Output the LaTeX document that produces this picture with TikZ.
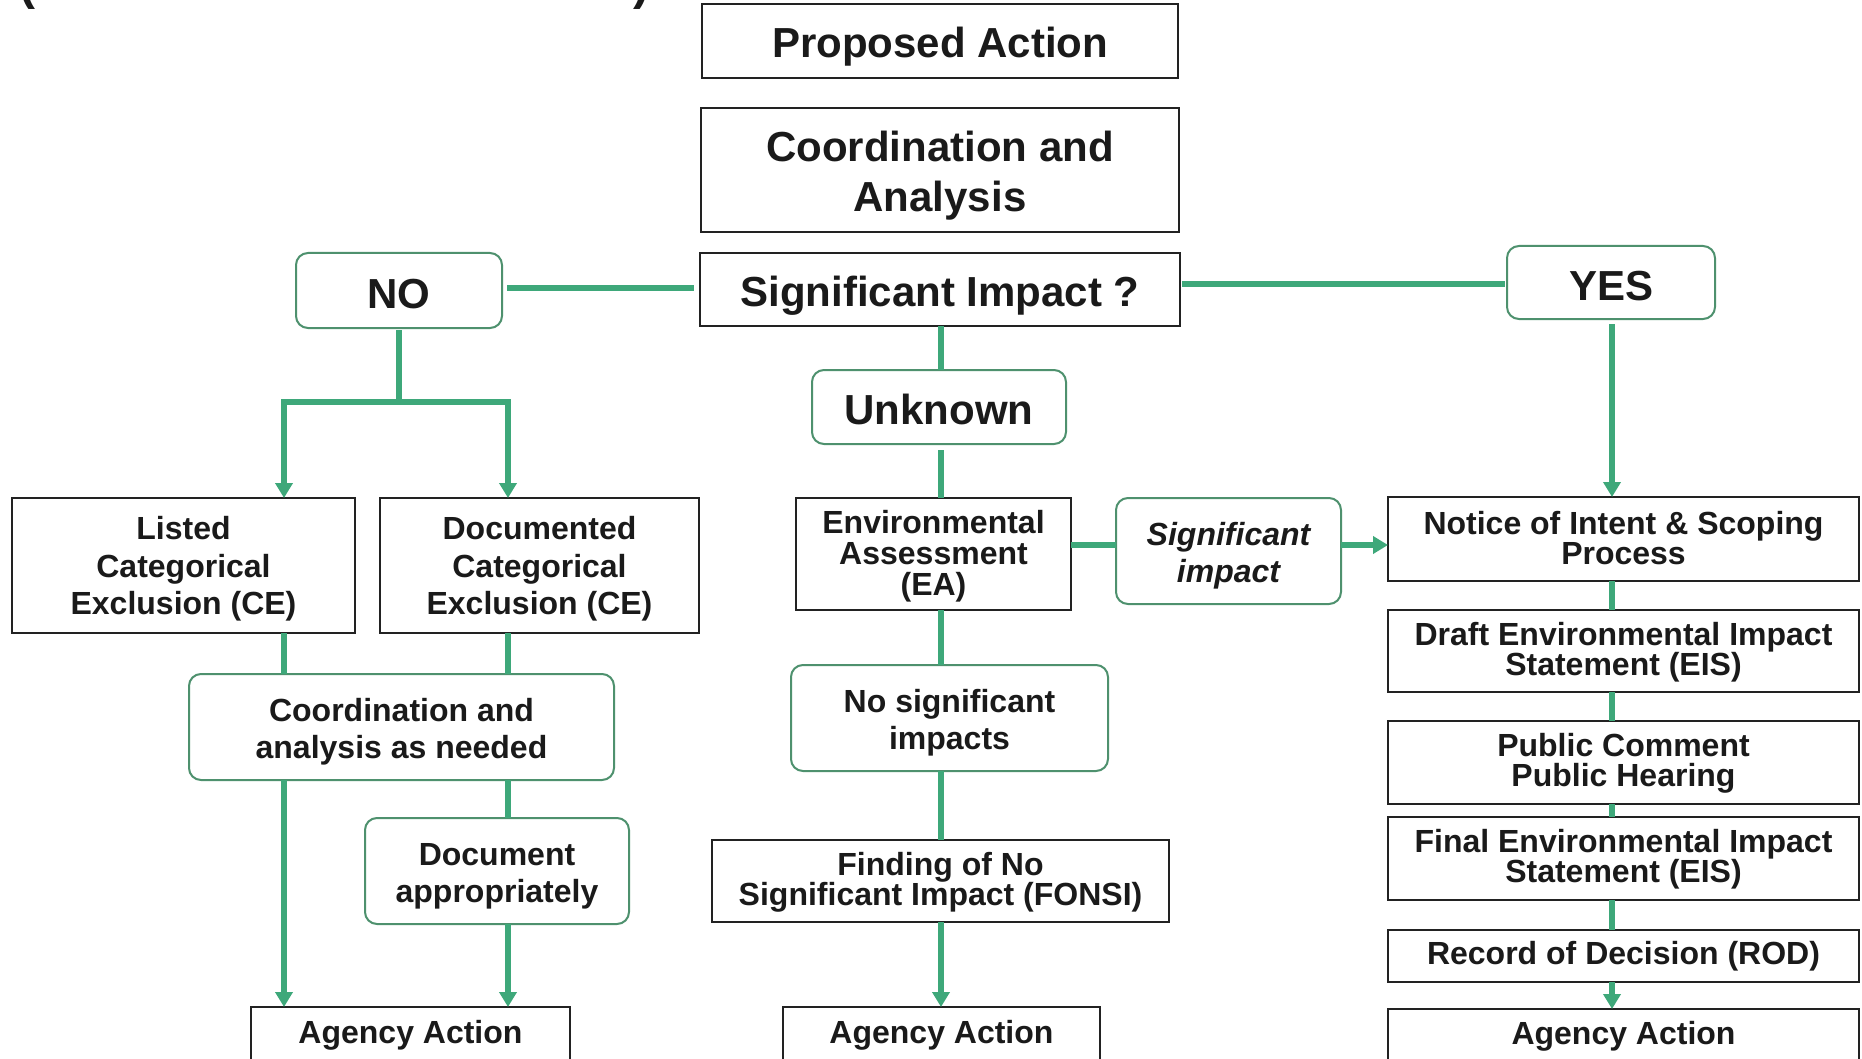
\documentclass[tikz,border=0pt]{standalone}
\usepackage{fontspec}
\setmainfont{Liberation Sans}
\usetikzlibrary{arrows.meta}
\definecolor{lgreen}{HTML}{3EA87A}
\definecolor{bgreen}{HTML}{4E916E}
\definecolor{ink}{HTML}{1A1A1A}
\definecolor{boxc}{HTML}{222222}
\begin{document}
\begin{tikzpicture}[x=1pt,y=-1pt,
  every node/.style={inner sep=0pt, outer sep=0pt, align=center, text=ink},
  blk/.style={draw=boxc, line width=2.5pt, fill=white},
  rbx/.style={draw=bgreen, line width=2pt, rounded corners=12pt, fill=white},
  fbig/.style={font=\bfseries\fontsize{42}{50}\selectfont},
  fmid/.style={font=\bfseries\fontsize{32}{37.5}\selectfont},
  ftight/.style={font=\bfseries\fontsize{32}{30}\selectfont},
  fea/.style={font=\bfseries\fontsize{32}{31}\selectfont},
  fital/.style={font=\bfseries\itshape\fontsize{32}{37}\selectfont},
  conn/.style={draw=lgreen, line width=5.5pt},
  arr/.style={conn, -{Triangle[width=17pt,length=15pt]}},
  sz/.style 2 args={minimum width=#1pt, minimum height=#2pt},
]
\useasboundingbox (0,0) rectangle (1862,1059);
\fill[white] (0,0) rectangle (1862,1059);

% clipped title fragments
\node[font=\bfseries\fontsize{48}{48}\selectfont, anchor=base] (tl) at (27,0) {(};
\node[font=\bfseries\fontsize{48}{48}\selectfont, anchor=base] (tr) at (641,0) {)};

% centre column
\node[blk,sz={476}{74},label={[fbig,yshift=-6pt]center:Proposed Action}] (prop) at (940,41) {};
\node[blk,sz={478}{124},label={[fbig,yshift=-6pt]center:{Coordination and\\Analysis}}] (coa) at (940,170) {};
\node[blk,sz={480}{73},label={[fbig,yshift=-6pt]center:Significant Impact ?}] (sig) at (940,289.5) {};
\node[rbx,sz={206}{75},label={[fbig,yshift=-3.5pt]center:NO}] (no) at (399,290.5) {};
\node[rbx,sz={208}{73},label={[fbig,yshift=-3.5pt]center:YES}] (yes) at (1611,282.5) {};

% left branch
\node[blk,sz={343}{135},label={[fmid,yshift=-3.5pt]center:{Listed\\Categorical\\Exclusion (CE)}}] (listed) at (183.5,565.5) {};
\node[blk,sz={319}{135},label={[fmid,yshift=-3.5pt]center:{Documented\\Categorical\\Exclusion (CE)}}] (docce) at (539.5,565.5) {};
\node[rbx,sz={425}{106},label={[fmid,yshift=-4.5pt]center:{Coordination and\\analysis as needed}}] (coord) at (401.5,727) {};
\node[rbx,sz={264}{106},label={[fmid,yshift=-5.5pt]center:{Document\\appropriately}}] (docapp) at (497,871) {};
\node[blk,sz={319}{54},label={[fmid,yshift=-1pt]center:Agency Action}] (ag1) at (410.5,1034) {};

% middle branch
\node[rbx,sz={254}{74},label={[fbig,yshift=-2.5pt]center:Unknown}] (unk) at (939,407) {};
\node[blk,sz={275}{112},label={[fea,yshift=-2.5pt]center:{Environmental\\Assessment\\(EA)}}] (ea) at (933.5,554) {};
\node[rbx,sz={225}{106},label={[fital,yshift=-4.5pt]center:{Significant\\impact}}] (sig2) at (1228.5,551) {};
\node[rbx,sz={317}{106},label={[fmid,yshift=-4.5pt]center:{No significant\\impacts}}] (nsi) at (949.5,718) {};
\node[blk,sz={457}{82},label={[ftight,yshift=-1pt]center:{Finding of No\\Significant Impact (FONSI)}}] (fonsi) at (940.5,881) {};
\node[blk,sz={317}{54},label={[fmid,yshift=-1pt]center:Agency Action}] (ag2) at (941.5,1034) {};

% right branch
\node[blk,sz={471}{84},label={[ftight,yshift=0.5pt]center:{Notice of Intent \& Scoping\\Process}}] (notice) at (1623.5,539) {};
\node[blk,sz={471}{82},label={[ftight,yshift=-1pt]center:{Draft Environmental Impact\\Statement (EIS)}}] (draft) at (1623.5,651) {};
\node[blk,sz={471}{83},label={[ftight,yshift=-1pt]center:{Public Comment\\Public Hearing}}] (pub) at (1623.5,762.5) {};
\node[blk,sz={471}{83},label={[ftight,yshift=-1pt]center:{Final Environmental Impact\\Statement (EIS)}}] (final) at (1623.5,858.5) {};
\node[blk,sz={471}{52},label={[fmid]center:Record of Decision (ROD)}] (rod) at (1623.5,956) {};
\node[blk,sz={471}{54},label={[fmid]center:Agency Action}] (ag3) at (1623.5,1036) {};

% helper coordinates
\coordinate (bL) at (284,402);
\coordinate (bR) at (508,402);
\coordinate (cM) at (941,0);
\coordinate (cR) at (1612,0);
\coordinate (hrow) at (0,545);
\coordinate (nrow) at (0,288);
\coordinate (yrow) at (0,284);

% connectors
\draw[conn, shorten <=5pt, shorten >=6pt] (no.east |- nrow) -- (sig.west |- nrow);
\draw[conn, shorten <=2pt, shorten >=2pt] (sig.east |- yrow) -- (yes.west |- yrow);
\draw[arr, shorten <=2pt] (no.south) |- (bL) -- (bL |- listed.north);
\draw[arr, shorten <=2pt] (no.south) |- (bR) -- (bR |- docce.north);

\draw[conn] (listed.south -| bL) -- (coord.north -| bL);
\draw[conn] (docce.south -| bR) -- (coord.north -| bR);
\draw[arr] (coord.south -| bL) -- (ag1.north -| bL);
\draw[conn] (coord.south -| bR) -- (docapp.north -| bR);
\draw[arr] (docapp.south -| bR) -- (ag1.north -| bR);

\draw[conn] (sig.south -| cM) -- (unk.north -| cM);
\draw[conn, shorten <=6pt] (unk.south -| cM) -- (ea.north -| cM);
\draw[conn] (ea.south -| cM) -- (nsi.north -| cM);
\draw[conn] (nsi.south -| cM) -- (fonsi.north -| cM);
\draw[arr] (fonsi.south -| cM) -- (ag2.north -| cM);
\draw[conn] (ea.east |- hrow) -- (sig2.west |- hrow);
\draw[arr] (sig2.east |- hrow) -- (notice.west |- hrow);

\draw[arr, shorten <=5pt] (yes.south -| cR) -- (notice.north -| cR);
\draw[conn] (notice.south -| cR) -- (draft.north -| cR);
\draw[conn] (draft.south -| cR) -- (pub.north -| cR);
\draw[conn] (pub.south -| cR) -- (final.north -| cR);
\draw[conn] (final.south -| cR) -- (rod.north -| cR);
\draw[arr] (rod.south -| cR) -- (ag3.north -| cR);
\end{tikzpicture}
\end{document}
